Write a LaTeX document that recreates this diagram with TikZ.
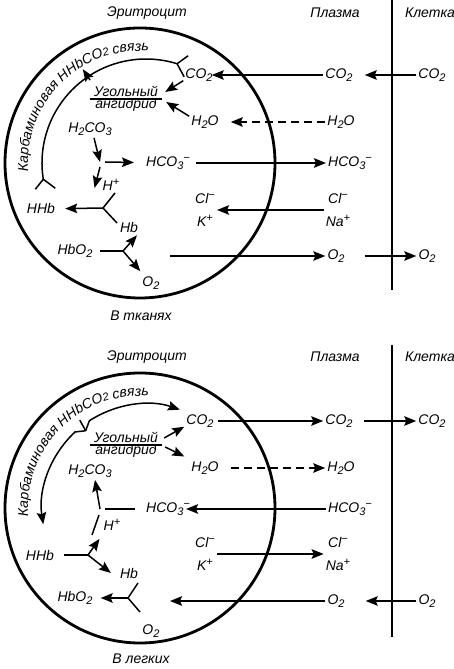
\documentclass[tikz,border=0pt]{standalone}
\usepackage{fontspec}
\setmainfont{Liberation Sans}
\usetikzlibrary{arrows.meta,calc,decorations.text}

\newcommand{\dn}[1]{\raisebox{-3.5pt}{\fontsize{11}{11}\selectfont #1}}
\newcommand{\up}[1]{\raisebox{5pt}{\fontsize{11}{11}\selectfont #1}}
\newcommand{\arcfnt}{\itshape\fontsize{14}{14}\selectfont}
\newcommand{\arcsub}{\itshape\fontsize{11}{11}\selectfont\raisebox{-3pt}}

\tikzset{
  lbl/.style={font=\itshape\fontsize{14}{15}\selectfont, inner sep=2pt},
  pair/.style={lbl, align=center, font=\itshape\fontsize{14}{23}\selectfont},
  anhyd/.style={lbl, align=center, inner xsep=4pt, font=\itshape\fontsize{14}{12}\selectfont},
  arr/.style={-{Stealth[length=12pt,width=9.5pt,inset=2pt]}, line width=1.5pt},
  dsh/.style={arr, dash pattern=on 8pt off 5pt},
  memb/.style={line width=2.8pt},
  fork/.style={line width=1.5pt},
  wall/.style={line width=1.5pt},
  arclbl/.style={decorate, decoration={text along path, text align=center,
    text={|\arcfnt|Карбаминовая HHbCO|\arcsub|2|\arcfnt| связь}}},
}

\begin{document}
\begin{tikzpicture}[x=1pt,y=1pt]
\useasboundingbox (0,0) rectangle (454,669);

% ---------- В тканях ----------
\coordinate (cT) at (140,506);
\coordinate (aT) at (146,506);
\draw[memb] (cT) circle[radius=135pt];
\draw[wall] (392,669) -- (392,379);

\node[lbl] (eryT) at (147,656) {Эритроцит};
\node[lbl] (plsT) at (335,656) {Плазма};
\node[lbl] (cllT) at (430,656) {Клетка};

\path[arclbl] ($(cT)+(200:112pt)$) arc[start angle=200, end angle=70, radius=112pt];

% carbamino arc
\draw[fork] ($(aT)+(189:104pt)$) coordinate (hhbjT)
  arc[start angle=189, end angle=72.6, radius=104pt] coordinate (co2jT);
\draw[fork] (hhbjT) -- ++(-8,-10);
\draw[fork] (hhbjT) -- ++(12,-9);
\draw[fork] (co2jT) -- ++(11,8);
\draw[fork] (co2jT) -- ++(7,-13);
\draw[arr] ($(aT)+(124:100pt)$) -- ($(aT)+(124:113pt)$);

\node[lbl] (co2iT) at (199,594) {CO\dn{2}};
\node[lbl] (co2pT) at (339,594) {CO\dn{2}};
\node[lbl] (co2cT) at (432,594) {CO\dn{2}};
\draw[arr, shorten >=-3pt] (co2pT) -- (co2iT);
\draw[arr, shorten >=10pt] (co2cT) -- (co2pT);

\node[anhyd] (anhT) at (126,570) {Угольный\\ангидрид};
\draw[fork] (anhT.west) -- (anhT.east);
\draw[arr] (co2iT.200) -- ([xshift=3pt,yshift=7pt]anhT.east);

\node[lbl] (h2oiT) at (205,547) {H\dn{2}O};
\node[lbl] (h2opT) at (341,547) {H\dn{2}O};
\draw[arr] (h2oiT.160) -- ([xshift=4pt,yshift=-3pt]anhT.east);
\draw[dsh, shorten >=10pt] (h2opT) -- (h2oiT);

\node[lbl] (h2co3T) at (90,540) {H\dn{2}CO\dn{3}};
\coordinate (jcT) at (100,507);
\draw[arr] ([xshift=4pt]h2co3T.south) -- (jcT);

\node[lbl] (hcoiT) at (168,506) {HCO\dn{3}\up{−}};
\node[lbl] (hcopT) at (350,506) {HCO\dn{3}\up{−}};
\draw[arr, shorten >=10pt] ([xshift=5pt]jcT) -- (hcoiT);
\draw[arr, shorten <=4pt] (hcoiT) -- (hcopT);

\node[lbl] (hpT) at (111,484) {H\up{+}};
\draw[arr] ([yshift=-5pt]jcT) -- ([xshift=-6pt,yshift=-3pt]hpT.west);

\coordinate (jhT) at (103,461);
\draw[fork] (jhT) -- ++(12,15);
\draw[fork] (jhT) -- ++(14,-15);
\node[lbl] (hhbT) at (41,460) {HHb};
\draw[arr, shorten >=8pt] (jhT) -- (hhbT);
\node[lbl] (hbT) at (129,441) {Hb};

\node[pair] (clkT) at (205,459) {Cl\up{−}\\K\up{+}};
\node[pair] (clnT) at (338,459) {Cl\up{−}\\Na\up{+}};
\draw[arr] (clnT) -- (clkT);

\node[lbl] (hbo2T) at (75,418) {HbO\dn{2}};
\coordinate (joT) at (123,418);
\draw[fork, shorten <=5pt] (hbo2T) -- (joT);
\draw[arr] (joT) -- ([xshift=8pt]hbT.south);
\node[lbl] (o2iT) at (151,386) {O\dn{2}};
\draw[arr] (joT) -- ([yshift=3pt]o2iT.north west);

\coordinate (o2sT) at (170,413);
\node[lbl] (o2pT) at (336,413) {O\dn{2}};
\node[lbl] (o2cT) at (427,413) {O\dn{2}};
\draw[arr] (o2sT) -- (o2pT);
\draw[arr, shorten <=18pt] (o2pT) -- (o2cT);

\node[lbl] (tisT) at (141,353) {В тканях};

% ---------- В легких ----------
\coordinate (cL) at (140,161);
\coordinate (aL) at (146,161);
\draw[memb] (cL) circle[radius=135pt];
\draw[wall] (392,324) -- (392,32);

\node[lbl] (eryL) at (147,312) {Эритроцит};
\node[lbl] (plsL) at (335,312) {Плазма};
\node[lbl] (cllL) at (430,312) {Клетка};

\path[arclbl] ($(cL)+(200:112pt)$) arc[start angle=200, end angle=70, radius=112pt];

% carbamino arc
\coordinate (jcL) at ($(aL)+(128:98pt)$);
\draw[fork] (jcL) -- ($(aL)+(127:110pt)$);
\draw[arr] (jcL) -- ($(aL)+(123:104pt)$) arc[start angle=123, end angle=71, radius=104pt];
\draw[arr] (jcL) -- ($(aL)+(133:104pt)$) arc[start angle=133, end angle=189, radius=104pt];

\node[lbl] (co2iL) at (200,248) {CO\dn{2}};
\node[lbl] (co2pL) at (339,248) {CO\dn{2}};
\node[lbl] (co2cL) at (432,248) {CO\dn{2}};
\draw[arr, shorten <=2pt] (co2iL) -- (co2pL);
\draw[arr, shorten <=9pt] (co2pL) -- (co2cL);

\node[anhyd] (anhL) at (126,224) {Угольный\\ангидрид};
\draw[fork] (anhL.west) -- (anhL.east);
\draw[arr] ([xshift=2pt,yshift=7pt]anhL.east) -- (co2iL.200);

\node[lbl] (h2oiL) at (205,201) {H\dn{2}O};
\node[lbl] (h2opL) at (341,201) {H\dn{2}O};
\draw[arr, shorten >=6pt] ([xshift=3pt,yshift=-2pt]anhL.east) -- (h2oiL.150);
\draw[dsh, shorten <=10pt] (h2oiL) -- (h2opL);

\node[lbl] (h2co3L) at (90,198) {H\dn{2}CO\dn{3}};
\coordinate (jhL) at (100,160);
\draw[arr] (jhL) -- ([xshift=5pt]h2co3L.south);

\node[lbl] (hcoiL) at (168,160) {HCO\dn{3}\up{−}};
\node[lbl] (hcopL) at (350,160) {HCO\dn{3}\up{−}};
\draw[arr, shorten >=-6pt] (hcopL) -- (hcoiL);
\draw[fork] ([xshift=-9pt]hcoiL.west) -- ([xshift=5pt]jhL);

\node[lbl] (hpL) at (112,144) {H\up{+}};
\draw[fork] ($(jhL)+(-8,-26)$) -- ($(jhL)+(-1,-6)$);

\node[lbl] (hhbL) at (40,114) {HHb};
\coordinate (jbL) at (88,114);
\draw[fork, shorten <=8pt] (hhbL) -- (jbL);
\draw[arr] (jbL) -- ($(hpL.south west)+(-2,-6)$);
\node[lbl] (hbL) at (129,96) {Hb};
\draw[arr] (jbL) -- ([xshift=-7pt]hbL.west);

\node[pair] (clkL) at (205,115) {Cl\up{−}\\K\up{+}};
\node[pair] (clnL) at (338,115) {Cl\up{−}\\Na\up{+}};
\draw[arr] (clkL) -- (clnL);

\node[lbl] (hbo2L) at (75,71) {HbO\dn{2}};
\coordinate (joL) at (128,71);
\draw[arr, shorten >=6pt] (joL) -- (hbo2L);
\draw[fork] (joL) -- ++(10,15);
\draw[fork] (joL) -- ++(12,-14);
\node[lbl] (o2iL) at (151,38) {O\dn{2}};

\coordinate (o2eL) at (170,68);
\node[lbl] (o2pL) at (336,68) {O\dn{2}};
\node[lbl] (o2cL) at (427,68) {O\dn{2}};
\draw[arr] (o2pL) -- (o2eL);
\draw[arr, shorten >=19pt] (o2cL) -- (o2pL);

\node[lbl] (lunL) at (141,10) {В легких};
\end{tikzpicture}
\end{document}
